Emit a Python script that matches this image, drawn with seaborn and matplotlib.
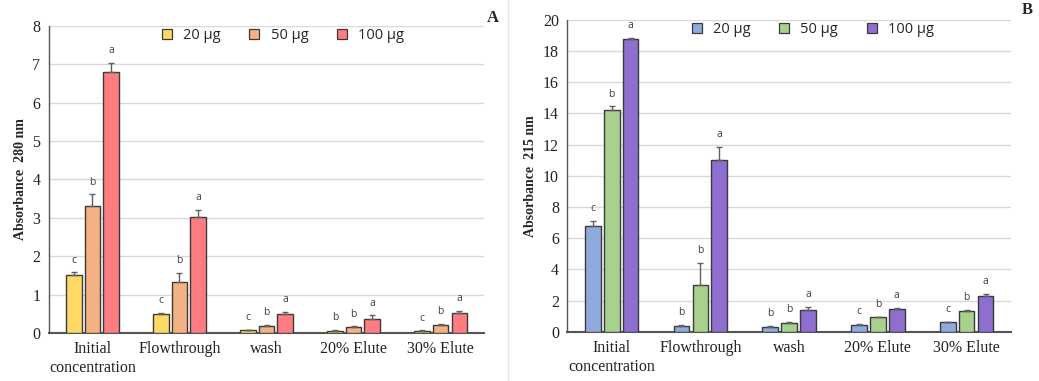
import seaborn as sns
import pandas as pd
import matplotlib.pyplot as plt
from matplotlib.lines import Line2D

# fractions collected from the column
fractions = ['Initial\nconcentration', 'Flowthrough', 'wash', '20% Elute', '30% Elute']
doses = ['20 µg', '50 µg', '100 µg']

# panel A - absorbance at 280 nm
a280_20 = [1.52, 0.49, 0.07, 0.06, 0.06]
a280_50 = [3.30, 1.32, 0.19, 0.15, 0.22]
a280_100 = [6.80, 3.01, 0.49, 0.37, 0.53]
err280_20 = [0.06, 0.03, 0.01, 0.03, 0.01]
err280_50 = [0.31, 0.24, 0.03, 0.02, 0.02]
err280_100 = [0.24, 0.20, 0.06, 0.09, 0.05]
letters280 = [['c', 'b', 'a'], ['c', 'b', 'a'], ['c', 'b', 'a'], ['b', 'b', 'a'], ['c', 'b', 'a']]

# panel B - absorbance at 215 nm
a215_20 = [6.76, 0.36, 0.32, 0.47, 0.64]
a215_50 = [14.21, 3.02, 0.58, 0.94, 1.35]
a215_100 = [18.75, 11.00, 1.43, 1.45, 2.31]
err215_20 = [0.36, 0.06, 0.08, 0.02, 0.02]
err215_50 = [0.24, 1.40, 0.04, 0.04, 0.04]
err215_100 = [0.08, 0.85, 0.16, 0.11, 0.13]
letters215 = [['c', 'b', 'a'], ['b', 'b', 'a'], ['b', 'b', 'a'], ['c', 'b', 'a'], ['c', 'b', 'a']]


def long_form(v20, v50, v100, e20, e50, e100):
    rows = []
    for d, vals, errs in zip(doses, [v20, v50, v100], [e20, e50, e100]):
        for f, v, e in zip(fractions, vals, errs):
            rows.append({'fraction': f, 'dose': d, 'value': v, 'err': e})
    return pd.DataFrame(rows)


df280 = long_form(a280_20, a280_50, a280_100, err280_20, err280_50, err280_100)
df215 = long_form(a215_20, a215_50, a215_100, err215_20, err215_50, err215_100)

sns.set_style("white")
serif = ['Liberation Serif', 'DejaVu Serif']
sans = ['Open Sans', 'DejaVu Sans']

fig = plt.figure(figsize=(10.39, 3.81), dpi=100)
axA = fig.add_axes([0.047, 0.126, 0.419, 0.806])
axB = fig.add_axes([0.546, 0.129, 0.427, 0.819])


def panel(ax, df, letters, palette, ymax, step, ylabel, legend_x):
    sns.barplot(data=df, x='fraction', y='value', hue='dose', palette=palette,
                saturation=1, width=0.64, gap=0.17, edgecolor='#3a3a3a', linewidth=1.0,
                errorbar=None, legend=False, ax=ax, zorder=3)
    # bars come out hue by hue, category by category
    bars = ax.patches[:len(df)]
    for bar, (_, row) in zip(bars, df.iterrows()):
        xc = bar.get_x() + bar.get_width() / 2
        top = row['value'] + row['err']
        ax.errorbar(xc, row['value'], yerr=[[0], [row['err']]], fmt='none',
                    ecolor='#606060', elinewidth=1, capsize=2.5, capthick=1, zorder=4)
        fi = fractions.index(row['fraction'])
        di = doses.index(row['dose'])
        ax.text(xc, top + ymax * 0.022, letters[fi][di], ha='center', va='bottom',
                fontsize=7.5, color='#404040', family=sans)
    ax.set_xlim(-0.5, 4.5)
    ax.set_ylim(0, ymax)
    ax.set_yticks(range(0, ymax + 1, step))
    ax.yaxis.grid(True, color='#d9d9d9', lw=1)
    ax.set_axisbelow(True)
    ax.set_xlabel('')
    ax.set_ylabel(ylabel, fontsize=10, fontweight='bold', family=serif, labelpad=4)
    ax.tick_params(axis='both', length=0, labelsize=11.5, pad=6)
    for lab in ax.get_xticklabels() + ax.get_yticklabels():
        lab.set_family(serif)
        lab.set_color('#222222')
    for s in ['top', 'right']:
        ax.spines[s].set_visible(False)
    ax.spines['left'].set_color('#555555')
    ax.spines['bottom'].set_color('#555555')
    ax.spines['left'].set_linewidth(1)
    ax.spines['bottom'].set_linewidth(1.5)
    handles = [Line2D([], [], marker='s', ls='none', markersize=7.5,
                      markerfacecolor=c, markeredgecolor='#3a3a3a', markeredgewidth=0.9)
               for c in palette]
    ax.legend(handles, doses, loc='center', bbox_to_anchor=(legend_x, 0.97), ncol=3,
              frameon=False, handletextpad=0.1, columnspacing=1.3,
              prop={'family': sans, 'size': 10.5})


panel(axA, df280, letters280, ['#FFD966', '#F4B183', '#FF7C80'], 8, 1,
      'Absorbance  280 nm', 0.527)
panel(axB, df215, letters215, ['#8FAADC', '#A9D18E', '#8E6FD0'], 20, 2,
      'Absorbance  215 nm', 0.543)

fig.text(493 / 1039, 1 - 18 / 381, 'A', fontsize=12, fontweight='bold', family=serif,
         ha='center', va='center')
fig.text(1027 / 1039, 1 - 10 / 381, 'B', fontsize=12, fontweight='bold', family=serif,
         ha='center', va='center')
# faint frame edge between the two panels
fig.add_artist(Line2D([508 / 1039, 508 / 1039], [0.0, 1.0], color='#e6e6e6', lw=1))

fig.savefig('out.png', dpi=100)
